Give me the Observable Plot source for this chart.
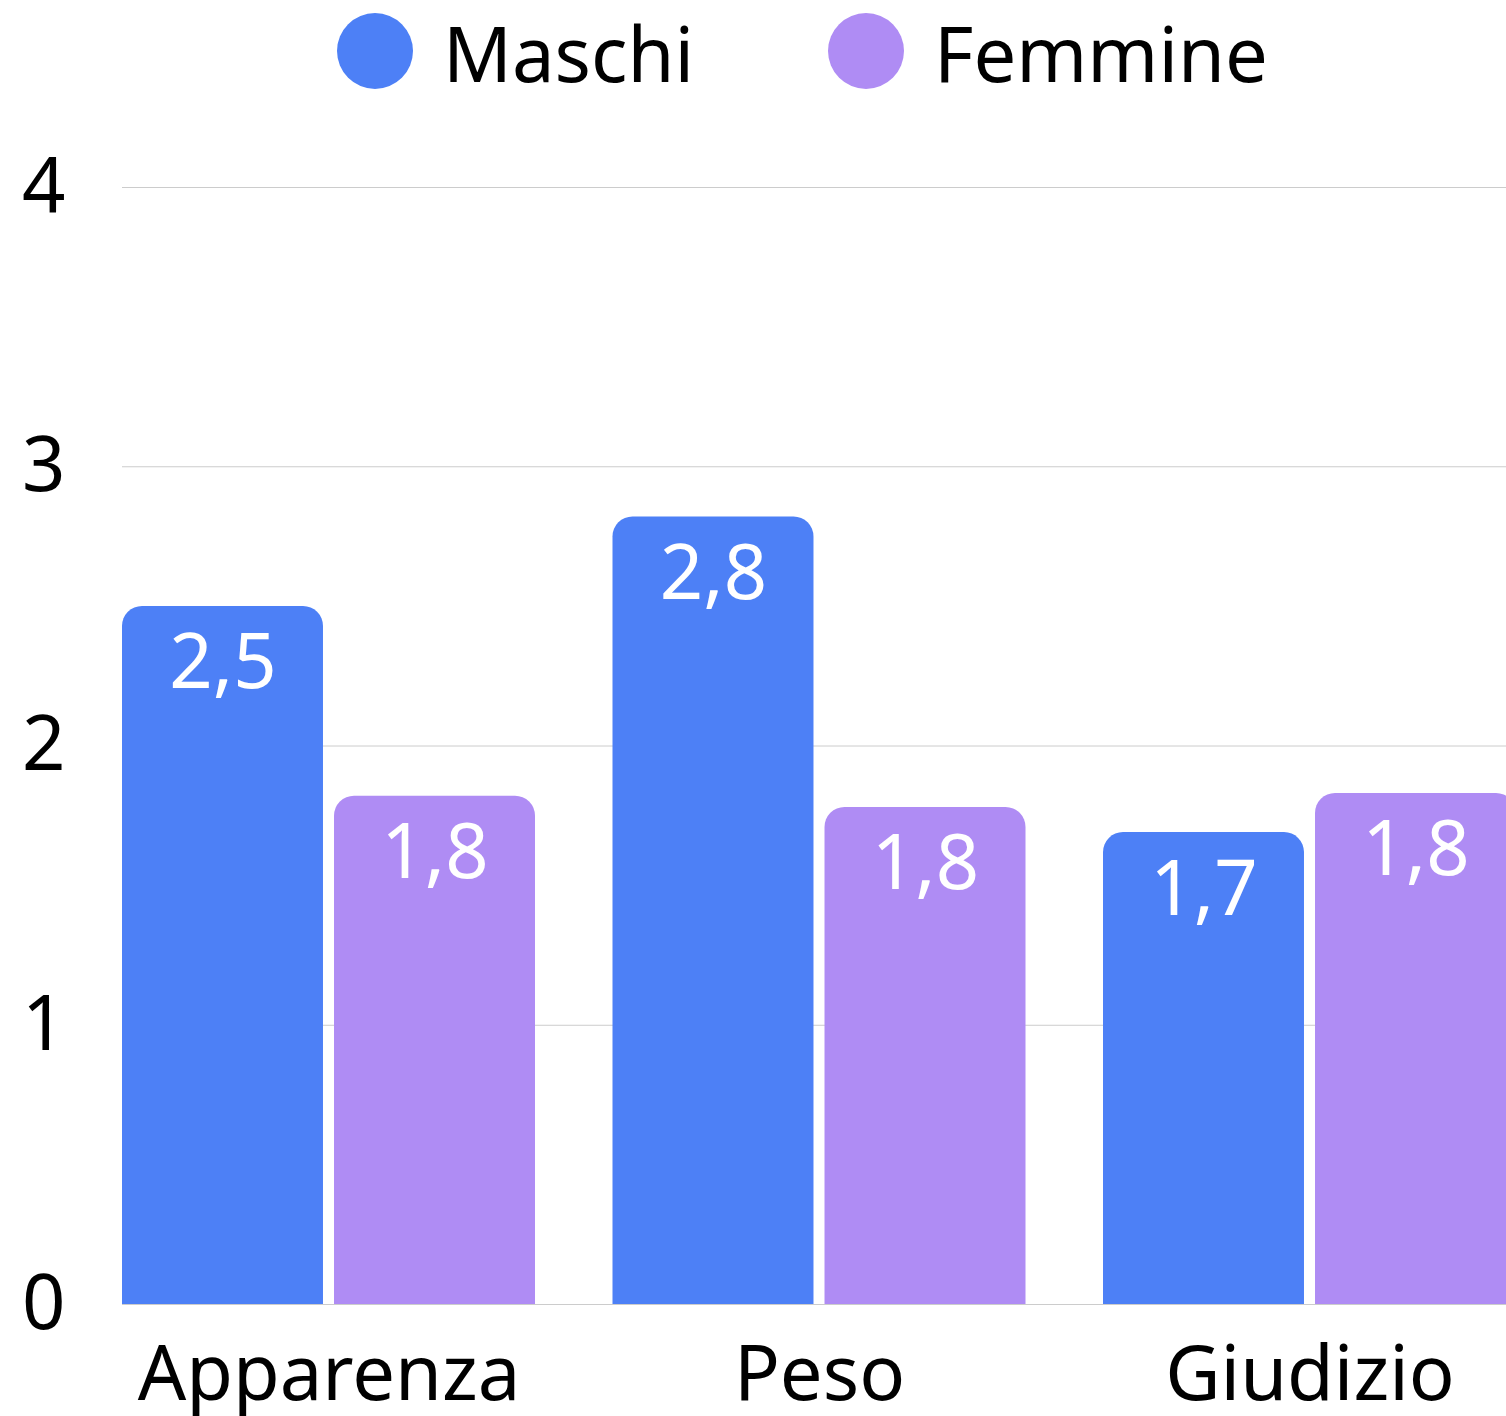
<!DOCTYPE html>
<html>
<head>
<meta charset="utf-8">
<script src="https://cdn.jsdelivr.net/npm/d3@7"></script>
<script src="https://cdn.jsdelivr.net/npm/@observablehq/plot@0.6"></script>
<style>
html, body { margin: 0; padding: 0; background: #fff; overflow: hidden; width: 1506px; height: 1416px; }
body { font-family: "Noto Sans", sans-serif; }
#legend svg { display: block; }
#chart { position: relative; width: 1516px; height: 1306px; }
#chart svg { display: block; position: absolute; left: 0; top: 0; }
</style>
</head>
<body>
<div id="legend"></div>
<div id="chart"></div>
<script>
// Data
const categories = ["Apparenza", "Peso", "Giudizio"];
const series = ["Maschi", "Femmine"];
const maschi = [2.5, 2.82, 1.69];
const femmine = [1.82, 1.78, 1.83];
const yTicks = [0, 1, 2, 3, 4];
const colors = ["#4d80f6", "#af8cf4"];

const FONT = '"Noto Sans", "Open Sans", sans-serif';
const FS = 76;
const fmt = v => d3.format(".1f")(v).replace(".", ",");

const data = categories.flatMap((c, i) => [
  {cat: c, sex: series[0], v: maschi[i]},
  {cat: c, sex: series[1], v: femmine[i]}
]);

// Legend
const leg = d3.select("#legend").append("svg")
  .attr("width", 1506).attr("height", 110);
const legX = [375, 866];
series.forEach((s, i) => {
  leg.append("circle").attr("cx", legX[i]).attr("cy", 51).attr("r", 38).attr("fill", colors[i]);
  leg.append("text").attr("x", legX[i] + 68).attr("y", 82)
    .attr("font-family", FONT).attr("font-size", FS)
    .attr("fill", "#000").text(s);
});

const common = {
  width: 1516,
  height: 1306,
  marginLeft: 122,
  marginRight: 0,
  marginTop: 77,
  marginBottom: 112
};
const yScale = {domain: [0, 4], ticks: yTicks, label: null, tickSize: 0, tickPadding: 57, tickFormat: d => String(d)};

// Background layer: gridlines across the full plot width + y axis
const grid = Plot.plot({
  ...common,
  style: {fontFamily: FONT, fontSize: FS + "px", background: "white", color: "#000", overflow: "visible"},
  y: yScale,
  marks: [
    Plot.ruleY(yTicks, {stroke: "#cccccc", strokeWidth: 1})
  ]
});

// Foreground layer: grouped bars
const bars = Plot.plot({
  ...common,
  style: {fontFamily: FONT, fontSize: FS + "px", background: "transparent", color: "#000", overflow: "visible"},
  fx: {domain: categories, paddingInner: 77.5 / 490.5, paddingOuter: 0, round: false, label: null, axis: "bottom", tickSize: 0, tickPadding: 42},
  x: {domain: series, paddingInner: 0.052, paddingOuter: 0, round: false, axis: null},
  y: {...yScale, axis: null},
  color: {domain: series, range: colors},
  marks: [
    Plot.barY(data, {fx: "cat", x: "sex", y: "v", fill: "sex", ry1: 20}),
    Plot.text(data, {fx: "cat", x: "sex", y: "v", text: d => fmt(d.v), fill: "white", lineAnchor: "top", dy: 28})
  ]
});
document.getElementById("chart").appendChild(grid);
document.getElementById("chart").appendChild(bars);
</script>
</body>
</html>
